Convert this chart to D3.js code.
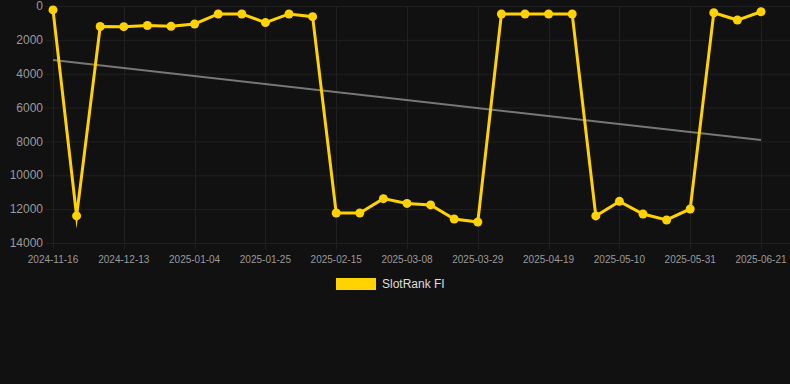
<!DOCTYPE html>
<html><head><meta charset="utf-8">
<script src="https://cdn.jsdelivr.net/npm/d3@7"></script>
<style>html,body{margin:0;padding:0;background:#111111;}svg{display:block;}</style>
</head><body>
<svg id="c" width="790" height="384"></svg>
<script>
const dates = ["2024-11-16","2024-11-25","2024-12-04","2024-12-13","2024-12-20","2024-12-27","2025-01-04","2025-01-11","2025-01-18","2025-01-25","2025-02-01","2025-02-08","2025-02-15","2025-02-22","2025-03-01","2025-03-08","2025-03-15","2025-03-22","2025-03-29","2025-04-05","2025-04-12","2025-04-19","2025-04-26","2025-05-03","2025-05-10","2025-05-17","2025-05-24","2025-05-31","2025-06-07","2025-06-14","2025-06-21"];
const ranks = [230,12400,1210,1220,1150,1200,1060,470,470,980,470,630,12230,12230,11380,11660,11750,12580,12760,470,470,470,470,12400,11540,12290,12640,11990,400,830,340];
const trendStart = 3190, trendEnd = 7920;
const yTicks = [0,2000,4000,6000,8000,10000,12000,14000];
const seriesName = "SlotRank FI";

const svg = d3.select("#c");
const x = d3.scalePoint().domain(dates).range([53,761]);
const y = d3.scaleLinear().domain([0,14000]).range([6,243]);
const grid = "#202020";
const tickLabels = dates.filter((d,i)=>i%3===0);

// horizontal grid
svg.append("g").selectAll("line").data(yTicks).join("line")
  .attr("x1",46).attr("x2",790).attr("y1",d=>y(d)+0.5).attr("y2",d=>y(d)+0.5)
  .attr("stroke",grid).attr("stroke-width",1);
// vertical grid
svg.append("g").selectAll("line").data(tickLabels).join("line")
  .attr("x1",d=>Math.round(x(d))+0.5).attr("x2",d=>Math.round(x(d))+0.5)
  .attr("y1",6).attr("y2",249)
  .attr("stroke",grid).attr("stroke-width",1);

// y labels
svg.append("g").selectAll("text").data(yTicks).join("text")
  .attr("x",43).attr("y",d=>y(d)).attr("dy","0.35em")
  .attr("text-anchor","end").attr("fill","#9a9a9a")
  .attr("font-family","Liberation Sans, Arial, sans-serif").attr("font-size",12)
  .text(d=>d);
// x labels
svg.append("g").selectAll("text").data(tickLabels).join("text")
  .attr("x",d=>x(d)).attr("y",263)
  .attr("text-anchor","middle").attr("fill","#9a9a9a")
  .attr("font-family","Liberation Sans, Arial, sans-serif").attr("font-size",10)
  .text(d=>d);

// trend
svg.append("line")
  .attr("x1",x(dates[0])).attr("y1",y(trendStart))
  .attr("x2",x(dates[dates.length-1])).attr("y2",y(trendEnd))
  .attr("stroke","#777777").attr("stroke-width",2);

// series line
const line = d3.line().x((d,i)=>x(dates[i])).y(d=>y(d));
svg.append("path").datum(ranks).attr("d",line)
  .attr("fill","none").attr("stroke","#ffd200").attr("stroke-width",3)
  .attr("stroke-linejoin","miter").attr("stroke-miterlimit",10);
svg.append("g").selectAll("circle").data(ranks).join("circle")
  .attr("cx",(d,i)=>x(dates[i])).attr("cy",d=>y(d)).attr("r",4.5)
  .attr("fill","#ffd200");

// legend
svg.append("rect").attr("x",336).attr("y",278).attr("width",40).attr("height",12)
  .attr("fill","#ffd200");
svg.append("text").attr("x",382).attr("y",284).attr("dy","0.35em")
  .attr("fill","#dddddd").attr("font-family","Liberation Sans, Arial, sans-serif")
  .attr("font-size",12).text(seriesName);
</script>
</body></html>
